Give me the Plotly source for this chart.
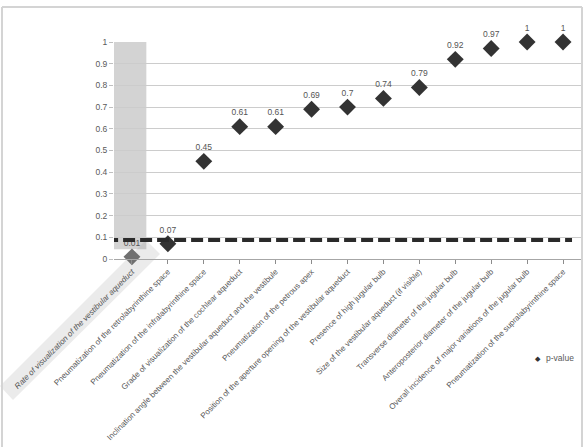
import plotly.graph_objects as go

categories = [
    "<i>Rate of visualization of the vestibular aqueduct</i>",
    "Pneumatization of the retrolabyrinthine space",
    "Pneumatization of the infralabyrinthine space",
    "Grade of visualization of the cochlear aqueduct",
    "Inclination angle between the vestibular aqueduct and the vestibule",
    "Pneumatization of the petrous apex",
    "Position of the aperture opening of the vestibular aqueduct",
    "Presence of high jugular bulb",
    "Size of the vestibular aqueduct (if visible)",
    "Transverse diameter of the jugular bulb",
    "Anteroposterior diameter of the jugular bulb",
    "Overall incidence of major variations of the jugular bulb",
    "Pneumatization of the supralabyrinthine space",
]
p_values = [0.01, 0.07, 0.45, 0.61, 0.61, 0.69, 0.7, 0.74, 0.79, 0.92, 0.97, 1, 1]
p_labels = ["0.01", "0.07", "0.45", "0.61", "0.61", "0.69", "0.7", "0.74", "0.79", "0.92", "0.97", "1", "1"]
threshold = 0.087
y_ticks = [0, 0.1, 0.2, 0.3, 0.4, 0.5, 0.6, 0.7, 0.8, 0.9, 1]
series_name = "p-value"

W, H = 586, 447
L, R, T, B = 114, 5, 42, 188
pw, ph = W - L - R, H - T - B

def px2paper(x, y):
    return (x - L) / pw, (H - B - y) / ph

FONT = "Liberation Sans Narrow, Liberation Sans, Arial"
idx = list(range(len(categories)))
marker_colors = ["#707070"] + ["#333333"] * (len(categories) - 1)

fig = go.Figure()
fig.add_trace(go.Scatter(
    x=idx, y=p_values, mode="markers+text", name=series_name,
    text=p_labels, textposition="top center",
    textfont=dict(size=8.5, color="#555555", family=FONT),
    marker=dict(symbol="diamond", size=13, color=marker_colors),
    cliponaxis=False, showlegend=False,
))

shapes = []
# highlight rectangle behind first category
shapes.append(dict(type="rect", xref="x", yref="y", x0=-0.5, x1=0.4, y0=0.045, y1=1.03,
                   fillcolor="rgba(150,150,150,0.42)", line=dict(width=0), layer="below"))
# rotated highlight band behind first label
band = [(0, 386), (13, 400), (160, 254), (146, 240)]
pts = [px2paper(x, y) for x, y in band]
path = "M " + " L ".join(f"{a},{b}" for a, b in pts) + " Z"
shapes.append(dict(type="path", xref="paper", yref="paper", path=path,
                   fillcolor="#ebebeb", line=dict(width=0), layer="below"))
# chart outer border
bx0, by0 = px2paper(2, 7)
bx1, by1 = px2paper(582, 447)
for (x0, y0, x1, y1) in [(bx0, by0, bx1, by0), (bx0, by0, bx0, by1), (bx1, by0, bx1, by1)]:
    shapes.append(dict(type="line", xref="paper", yref="paper", x0=x0, y0=y0, x1=x1, y1=y1,
                       line=dict(color="#d4d4d4", width=2), layer="below"))
# threshold dashed line
shapes.append(dict(type="line", xref="x", yref="y", x0=-0.72, x1=12.25, y0=threshold, y1=threshold,
                   line=dict(color="#2a2a2a", width=4, dash="12px,5px"), layer="above"))

# manual legend
mx, my = px2paper(538, 358)
tx, ty = px2paper(544, 358)
annotations = [
    dict(xref="paper", yref="paper", x=mx, y=my, text="◆", showarrow=False,
         font=dict(size=7, color="#333333"), xanchor="center", yanchor="middle"),
    dict(xref="paper", yref="paper", x=tx, y=ty, text=series_name, showarrow=False,
         font=dict(size=8.5, color="#595959", family=FONT), xanchor="left", yanchor="middle"),
]

fig.update_layout(
    width=W, height=H,
    margin=dict(l=L, r=R, t=T, b=B, pad=0),
    paper_bgcolor="white", plot_bgcolor="rgba(0,0,0,0)",
    shapes=shapes, annotations=annotations,
    showlegend=False,
    xaxis=dict(range=[-0.5, 12.5], tickmode="array", tickvals=idx, ticktext=categories,
               tickangle=-45, tickson="boundaries", ticks="outside", ticklen=4,
               tickcolor="#8c8c8c", showline=True, linecolor="#a6a6a6", linewidth=1,
               showgrid=False, zeroline=False, automargin=False,
               tickfont=dict(size=8, color="#555555", family=FONT)),
    yaxis=dict(range=[0, 1], tickmode="array", tickvals=y_ticks, ticks="outside", ticklen=4,
               tickcolor="#bfbfbf", showgrid=True, gridcolor="#cccccc", gridwidth=1,
               showline=False, zeroline=False, automargin=False,
               tickfont=dict(size=8.5, color="#595959", family=FONT)),
)
fig.write_html("out.html")
